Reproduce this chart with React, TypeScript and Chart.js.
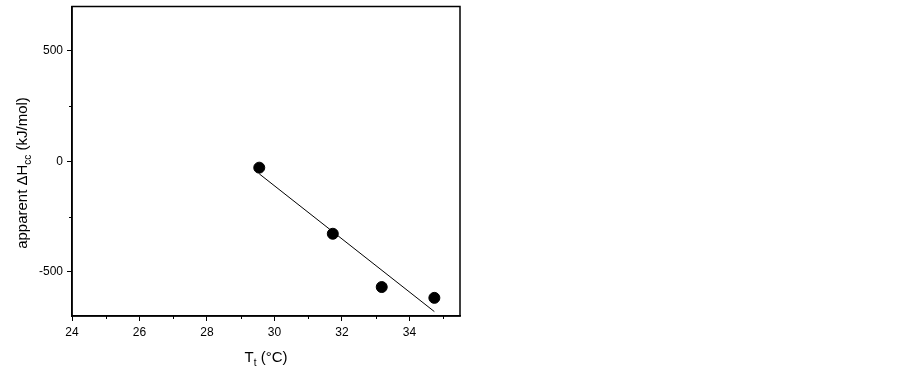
import React, { useEffect, useRef } from "react";
import { Chart, registerables } from "chart.js";

Chart.register(...registerables);

// Data
const tempC: number[] = [29.55, 31.73, 33.18, 34.74];
const deltaH: number[] = [-29, -328, -569, -618];
const fitX: number[] = [29.55, 34.74];
const fitY: number[] = [-57, -680];

const xMajorTicks: number[] = [24, 26, 28, 30, 32, 34];
const xMinorTicks: number[] = [25, 27, 29, 31, 33, 35];
const yMajorTicks: number[] = [-500, 0, 500];
const yMinorTicks: number[] = [-250, 250];

const FONT = "'Liberation Sans', Arial, sans-serif";

const framePlugin = {
  id: "frameAndTitles",
  afterDraw(chart: any) {
    const { ctx, chartArea, scales } = chart;
    const { left, right, top, bottom } = chartArea;
    ctx.save();
    ctx.strokeStyle = "#000";
    ctx.lineWidth = 1.5;
    ctx.strokeRect(left, top, right - left, bottom - top);

    // minor ticks
    ctx.lineWidth = 1;
    ctx.beginPath();
    xMinorTicks.forEach((v) => {
      const px = Math.round(scales.x.getPixelForValue(v)) + 0.5;
      ctx.moveTo(px, bottom);
      ctx.lineTo(px, bottom + 3);
    });
    yMinorTicks.forEach((v) => {
      const py = Math.round(scales.y.getPixelForValue(v)) + 0.5;
      ctx.moveTo(left, py);
      ctx.lineTo(left - 3, py);
    });
    ctx.stroke();

    ctx.fillStyle = "#000";
    ctx.textBaseline = "alphabetic";
    const mainF = `15px ${FONT}`;
    const subF = `10px ${FONT}`;
    // X title: T_t (°C)
    const xParts = [
      { t: "T", f: mainF, dy: 0 },
      { t: "t", f: subF, dy: 4 },
      { t: " (\u00B0C)", f: mainF, dy: 0 },
    ];
    let total = 0;
    xParts.forEach((p) => {
      ctx.font = p.f;
      total += ctx.measureText(p.t).width;
    });
    let cx = (left + right) / 2 - total / 2;
    const baseY = 362;
    xParts.forEach((p) => {
      ctx.font = p.f;
      ctx.fillText(p.t, cx, baseY + p.dy);
      cx += ctx.measureText(p.t).width;
    });

    // Y title: apparent ΔH_cc (kJ/mol)
    const yParts = [
      { t: "apparent \u0394H", f: mainF, dy: 0 },
      { t: "cc", f: subF, dy: 4 },
      { t: " (kJ/mol)", f: mainF, dy: 0 },
    ];
    total = 0;
    yParts.forEach((p) => {
      ctx.font = p.f;
      total += ctx.measureText(p.t).width;
    });
    ctx.translate(27, 173);
    ctx.rotate(-Math.PI / 2);
    let cy = -total / 2;
    yParts.forEach((p) => {
      ctx.font = p.f;
      ctx.fillText(p.t, cy, p.dy);
      cy += ctx.measureText(p.t).width;
    });
    ctx.restore();
  },
};

export default function App() {
  const ref = useRef<HTMLCanvasElement | null>(null);

  useEffect(() => {
    if (!ref.current) return;
    const chart = new Chart(ref.current, {
      type: "scatter",
      data: {
        datasets: [
          {
            label: "fit",
            data: fitX.map((x, i) => ({ x, y: fitY[i] })),
            showLine: true,
            borderColor: "#000",
            borderWidth: 1,
            pointRadius: 0,
            fill: false,
          },
          {
            label: "data",
            data: tempC.map((x, i) => ({ x, y: deltaH[i] })),
            backgroundColor: "#000",
            borderColor: "#000",
            pointRadius: 5.5,
            pointHoverRadius: 5.5,
          },
        ],
      },
      options: {
        animation: false,
        responsive: false,
        events: [],
        layout: { padding: { left: 0, top: 5, right: 443, bottom: 0 } },
        plugins: {
          legend: { display: false },
          tooltip: { enabled: false },
        },
        scales: {
          x: {
            type: "linear",
            min: 24,
            max: 35.5,
            afterBuildTicks: (scale: any) => {
              scale.ticks = xMajorTicks.map((v) => ({ value: v }));
            },
            afterFit: (scale: any) => {
              scale.height = 58;
              scale.paddingLeft = 0;
              scale.paddingRight = 0;
            },
            grid: {
              display: true,
              drawOnChartArea: false,
              drawTicks: true,
              tickLength: 5,
              color: "#000",
              lineWidth: 1,
            },
            border: { display: true, color: "#000", width: 1.5 },
            ticks: {
              color: "#000",
              font: { family: FONT, size: 12 },
              padding: 4,
              maxRotation: 0,
              callback: (v: any) => String(v),
            },
          },
          y: {
            type: "linear",
            min: -700,
            max: 700,
            afterBuildTicks: (scale: any) => {
              scale.ticks = yMajorTicks.map((v) => ({ value: v }));
            },
            afterFit: (scale: any) => {
              scale.width = 72;
              scale.paddingTop = 0;
              scale.paddingBottom = 0;
            },
            grid: {
              display: true,
              drawOnChartArea: false,
              drawTicks: true,
              tickLength: 5,
              color: "#000",
              lineWidth: 1,
            },
            border: { display: true, color: "#000", width: 1.5 },
            ticks: {
              color: "#000",
              font: { family: FONT, size: 12 },
              padding: 4,
              callback: (v: any) => String(v),
            },
          },
        },
      },
      plugins: [framePlugin],
    });
    return () => chart.destroy();
  }, []);

  return (
    <div style={{ position: "fixed", left: 0, top: 0, width: 903, height: 374, background: "#fff" }}>
      <canvas ref={ref} width={903} height={374} style={{ display: "block" }} />
    </div>
  );
}
